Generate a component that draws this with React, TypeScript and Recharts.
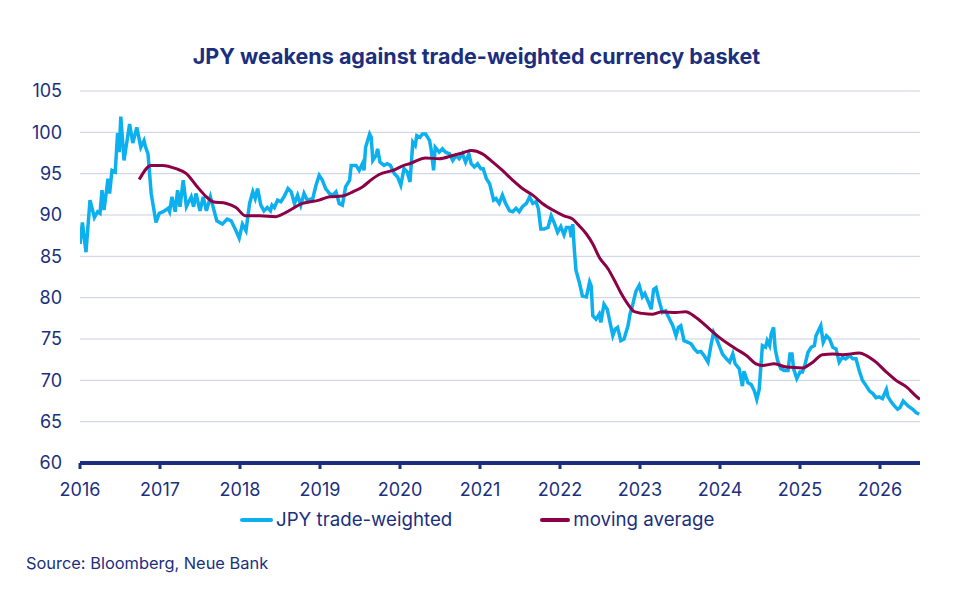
import React from 'react';
import { LineChart, Line, XAxis, YAxis, CartesianGrid } from 'recharts';

// years as decimal fractions
const jpyTimes = [
  2016.0, 2016.03, 2016.075, 2016.125, 2016.18, 2016.22, 2016.25, 2016.275, 2016.3, 2016.35,
  2016.37, 2016.4, 2016.44, 2016.47, 2016.49, 2016.51, 2016.55, 2016.62, 2016.66, 2016.71,
  2016.76, 2016.8, 2016.82, 2016.85, 2016.89, 2016.95, 2016.99, 2017.04, 2017.1, 2017.12,
  2017.15, 2017.19, 2017.22, 2017.25, 2017.29, 2017.33, 2017.39, 2017.42, 2017.45, 2017.5,
  2017.54, 2017.58, 2017.63, 2017.71, 2017.78, 2017.84, 2017.89, 2017.95, 2017.99, 2018.03,
  2018.075, 2018.12, 2018.16, 2018.19, 2018.22, 2018.26, 2018.3, 2018.34, 2018.38, 2018.4,
  2018.43, 2018.47, 2018.51, 2018.55, 2018.6, 2018.64, 2018.68, 2018.72, 2018.76, 2018.8,
  2018.84, 2018.91, 2018.95, 2018.99, 2019.03, 2019.07, 2019.12, 2019.16, 2019.2, 2019.24,
  2019.28, 2019.32, 2019.37, 2019.39, 2019.45, 2019.49, 2019.53, 2019.55, 2019.57, 2019.62,
  2019.64, 2019.66, 2019.7, 2019.72, 2019.75, 2019.8, 2019.84, 2019.88, 2019.93, 2019.97,
  2020.01, 2020.05, 2020.09, 2020.125, 2020.16, 2020.19, 2020.21, 2020.25, 2020.28, 2020.32,
  2020.37, 2020.39, 2020.42, 2020.44, 2020.49, 2020.53, 2020.57, 2020.62, 2020.66, 2020.7,
  2020.74, 2020.78, 2020.82, 2020.86, 2020.89, 2020.93, 2020.97, 2021.01, 2021.04, 2021.08,
  2021.12, 2021.14, 2021.17, 2021.2, 2021.24, 2021.28, 2021.32, 2021.37, 2021.41, 2021.45,
  2021.49, 2021.53, 2021.58, 2021.62, 2021.66, 2021.7, 2021.73, 2021.76, 2021.8, 2021.85,
  2021.89, 2021.93, 2021.97, 2022.01, 2022.05, 2022.08, 2022.12, 2022.14, 2022.16, 2022.18,
  2022.2, 2022.24, 2022.28, 2022.33, 2022.37, 2022.39, 2022.41, 2022.45, 2022.49, 2022.51,
  2022.55, 2022.59, 2022.63, 2022.66, 2022.69, 2022.72, 2022.76, 2022.8, 2022.85, 2022.875,
  2022.91, 2022.95, 2022.99, 2023.03, 2023.06, 2023.1, 2023.14, 2023.17, 2023.2, 2023.24,
  2023.28, 2023.32, 2023.37, 2023.41, 2023.45, 2023.48, 2023.51, 2023.55, 2023.6, 2023.64,
  2023.68, 2023.72, 2023.76, 2023.8, 2023.85, 2023.89, 2023.92, 2023.95, 2023.99, 2024.03,
  2024.08, 2024.12, 2024.16, 2024.19, 2024.24, 2024.28, 2024.3, 2024.35, 2024.39, 2024.43,
  2024.46, 2024.49, 2024.53, 2024.57, 2024.59, 2024.62, 2024.64, 2024.67, 2024.69, 2024.72,
  2024.76, 2024.8, 2024.85, 2024.875, 2024.9, 2024.92, 2024.96, 2025.0, 2025.03, 2025.06,
  2025.1, 2025.14, 2025.18, 2025.2, 2025.24, 2025.26, 2025.29, 2025.33, 2025.37, 2025.41,
  2025.45, 2025.49, 2025.53, 2025.57, 2025.62, 2025.66, 2025.7, 2025.74, 2025.78, 2025.83,
  2025.87, 2025.91, 2025.95, 2025.99, 2026.03, 2026.08, 2026.1, 2026.14, 2026.18, 2026.22,
  2026.25, 2026.29, 2026.35, 2026.41, 2026.45, 2026.49,
];

const jpyValues = [
  86.5, 89.1, 85.5, 91.8, 89.7, 90.4, 90.2, 93.0, 90.6, 94.4,
  92.6, 95.4, 95.2, 99.9, 97.6, 101.9, 96.6, 101.0, 98.7, 100.6,
  98.2, 99.0, 98.2, 97.4, 92.6, 89.1, 90.2, 90.4, 90.8, 90.4,
  92.2, 90.4, 93.0, 91.0, 94.2, 91.0, 92.2, 91.0, 92.6, 90.5,
  92.2, 90.5, 92.2, 89.3, 88.9, 89.5, 89.3, 88.1, 87.2, 88.9,
  88.1, 91.4, 92.8, 92.0, 93.2, 91.2, 90.5, 90.9, 90.5, 91.2,
  90.9, 91.8, 91.6, 92.2, 93.2, 92.8, 91.4, 92.4, 91.2, 92.6,
  91.8, 92.0, 93.6, 94.8, 94.2, 93.2, 92.6, 92.4, 92.8, 91.4,
  91.2, 93.4, 94.2, 96.0, 96.0, 95.4, 96.2, 95.4, 98.2, 99.8,
  99.4, 96.6, 97.2, 98.0, 96.4, 96.0, 96.2, 96.0, 95.0, 94.6,
  93.6, 95.6, 95.2, 94.0, 98.8, 98.4, 99.6, 99.4, 99.8, 99.8,
  99.0, 97.9, 95.4, 98.2, 97.6, 98.0, 97.6, 97.4, 96.6, 97.2,
  96.8, 97.4, 96.4, 97.4, 96.2, 95.8, 96.2, 95.6, 95.6, 94.4,
  93.8, 93.0, 91.8, 92.0, 91.4, 92.4, 91.4, 90.5, 90.4, 90.8,
  90.4, 91.0, 91.4, 92.2, 91.4, 91.6, 90.75, 88.3, 88.3, 88.5,
  89.9, 89.0, 87.9, 88.6, 87.6, 88.5, 88.5, 87.3, 88.9, 85.7,
  83.3, 81.9, 80.2, 80.1, 81.9, 81.4, 77.8, 77.4, 78.0, 77.0,
  79.2, 78.6, 76.8, 75.4, 76.2, 76.4, 74.8, 75.0, 76.6, 78.0,
  79.2, 80.8, 81.5, 80.1, 80.5, 79.6, 78.6, 81.0, 81.2, 79.6,
  78.2, 78.4, 77.4, 76.6, 75.4, 76.4, 76.6, 74.8, 74.6, 74.4,
  73.8, 73.4, 73.5, 73.0, 72.2, 74.4, 75.8, 75.2, 74.2, 73.2,
  72.6, 72.2, 73.2, 72.0, 71.4, 69.3, 71.1, 69.7, 69.5, 68.7,
  67.7, 68.9, 74.2, 74.0, 74.8, 74.2, 75.6, 76.4, 73.8, 72.4,
  71.4, 71.2, 71.2, 73.2, 73.2, 71.4, 70.2, 71.0, 71.0, 71.8,
  73.4, 74.0, 74.2, 75.4, 76.2, 76.6, 74.6, 75.4, 75.0, 74.0,
  73.8, 72.2, 72.8, 72.6, 73.0, 72.6, 72.6, 71.2, 70.0, 69.3,
  68.7, 68.4, 67.9, 68.0, 67.8, 68.9, 68.0, 67.4, 66.9, 66.5,
  66.7, 67.5, 66.9, 66.5, 66.1, 65.9,
];

const maTimes = [
  2016.74, 2016.89, 2017.03, 2017.2, 2017.33, 2017.45, 2017.58, 2017.66, 2017.83, 2017.95,
  2018.07, 2018.25, 2018.45, 2018.57, 2018.78, 2018.99, 2019.12, 2019.28, 2019.41, 2019.53,
  2019.66, 2019.74, 2019.91, 2020.05, 2020.12, 2020.32, 2020.49, 2020.66, 2020.78, 2020.89,
  2021.03, 2021.16, 2021.28, 2021.41, 2021.53, 2021.66, 2021.78, 2021.91, 2022.05, 2022.16,
  2022.24, 2022.33, 2022.41, 2022.49, 2022.6, 2022.68, 2022.76, 2022.85, 2022.93, 2023.03,
  2023.16, 2023.28, 2023.45, 2023.57, 2023.7, 2023.87, 2023.99, 2024.12, 2024.2, 2024.33,
  2024.45, 2024.53, 2024.68, 2024.83, 2025.03, 2025.16, 2025.28, 2025.41, 2025.53, 2025.74,
  2025.83, 2025.95, 2026.08, 2026.2, 2026.33, 2026.45, 2026.5,
];

const maValues = [
  94.3, 96.0, 96.0, 95.6, 95.0, 93.6, 92.2, 91.6, 91.4, 90.9,
  89.9, 89.9, 89.8, 90.3, 91.4, 91.8, 92.2, 92.3, 92.8, 93.4,
  94.4, 94.9, 95.4, 96.0, 96.2, 96.9, 96.8, 97.2, 97.5, 97.8,
  97.4, 96.4, 95.4, 94.2, 93.2, 92.4, 91.4, 90.6, 89.9, 89.5,
  88.7, 87.7, 86.5, 84.9, 83.5, 82.1, 80.6, 79.2, 78.3, 78.1,
  78.0, 78.3, 78.2, 78.3, 77.6, 76.2, 75.2, 74.3, 73.8, 73.0,
  72.0, 71.8, 72.0, 71.6, 71.5, 72.2, 73.1, 73.2, 73.1, 73.3,
  73.0, 72.2, 71.0, 70.0, 69.2, 68.1, 67.7,
];

const yearTicks = [2016, 2017, 2018, 2019, 2020, 2021, 2022, 2023, 2024, 2025, 2026];
const valueTicks = [60, 65, 70, 75, 80, 85, 90, 95, 100, 105];

const jpyData = jpyTimes.map((t, i) => ({ t, v: jpyValues[i] }));
const maData = maTimes.map((t, i) => ({ t, v: maValues[i] }));

const NAVY = '#1b2f7e';
const BLUE = '#0db0ee';
const MAROON = '#8c0045';

const App: React.FC = () => {
  return (
    <div style={{ position: 'relative', width: 961, height: 580, fontFamily: 'Inter, sans-serif', color: NAVY }}>
      <div
        style={{
          position: 'absolute', top: 35, left: 0, width: 937, textAlign: 'center',
          fontSize: 21.5, fontWeight: 700, lineHeight: '26px',
        }}
      >
        JPY weakens against trade-weighted currency basket
      </div>
      <div style={{ position: 'absolute', top: 0, left: 0 }}>
        <LineChart width={961} height={500} margin={{ top: 83, right: 49, left: 12, bottom: 15 }}>
          <CartesianGrid vertical={false} stroke="#c8cfe4" strokeWidth={1} />
          <XAxis
            type="number"
            dataKey="t"
            domain={[2016, 2026.5]}
            ticks={yearTicks}
            allowDataOverflow
            height={30}
            tickSize={6}
            tickMargin={14}
            axisLine={{ stroke: NAVY, strokeWidth: 4 }}
            tickLine={{ stroke: NAVY, strokeWidth: 3 }}
            tick={{ fill: NAVY, fontSize: 18 }}
          />
          <YAxis
            type="number"
            domain={[60, 105]}
            ticks={valueTicks}
            width={60}
            axisLine={false}
            tickLine={false}
            tickSize={0}
            tickMargin={18}
            tick={{ fill: NAVY, fontSize: 18 }}
          />
          <Line
            data={jpyData}
            dataKey="v"
            type="linear"
            stroke={BLUE}
            strokeWidth={3.5}
            dot={false}
            activeDot={false}
            isAnimationActive={false}
          />
          <Line
            data={maData}
            dataKey="v"
            type="monotone"
            stroke={MAROON}
            strokeWidth={3}
            dot={false}
            activeDot={false}
            isAnimationActive={false}
          />
        </LineChart>
      </div>
      {/* legend */}
      <div style={{ position: 'absolute', top: 500, left: 232, display: 'flex', alignItems: 'center', fontSize: 18.7, lineHeight: '24px' }}>
        <span style={{ display: 'inline-block', width: 33, height: 4, borderRadius: 2, background: BLUE, marginRight: 3 }} />
        <span>JPY trade-weighted</span>
        <span style={{ display: 'inline-block', width: 30, height: 4, borderRadius: 2, background: MAROON, marginLeft: 88, marginRight: 3 }} />
        <span>moving average</span>
      </div>
      <div style={{ position: 'absolute', top: 545, left: 18, fontSize: 16.4, lineHeight: '20px' }}>
        Source: Bloomberg, Neue Bank
      </div>
    </div>
  );
};

export default App;
